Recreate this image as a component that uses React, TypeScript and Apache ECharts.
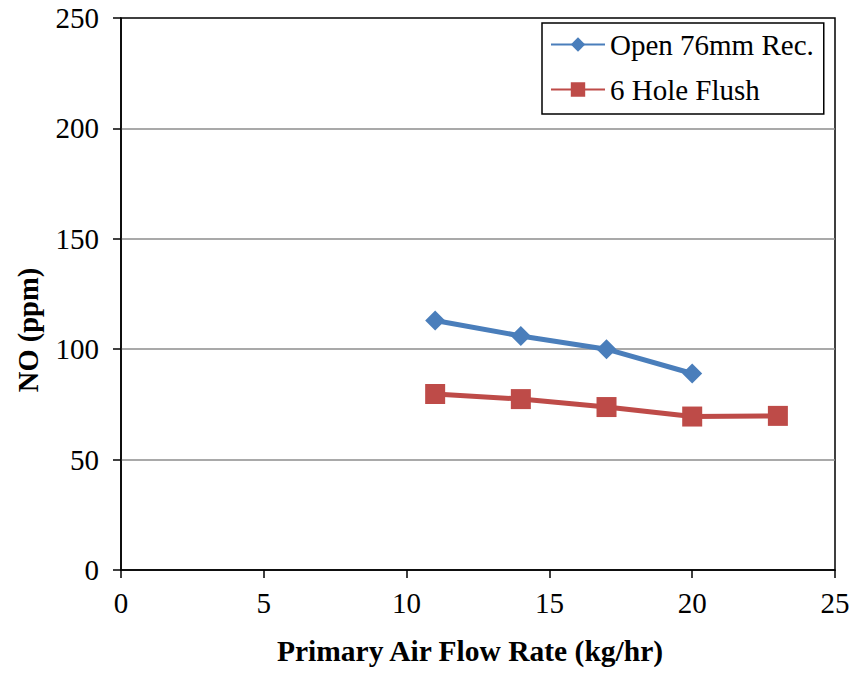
import React, { useEffect, useRef } from "react";
import * as echarts from "echarts";

const xOpen = [11, 14, 17, 20];
const yOpen = [113, 106, 100, 89];
const xFlush = [11, 14, 17, 20, 23];
const yFlush = [79.7, 77.4, 73.8, 69.5, 69.8];
const seriesNames = ["Open 76mm Rec.", "6 Hole Flush"];
const xTitle = "Primary Air Flow Rate (kg/hr)";
const yTitle = "NO (ppm)";

const FONT = "'Liberation Serif', 'Times New Roman', serif";

export default function App() {
  const ref = useRef<HTMLDivElement>(null);
  useEffect(() => {
    if (!ref.current) return;
    const chart = echarts.init(ref.current, undefined, { renderer: "svg" });
    const axisCommon = {
      axisLine: { show: true, lineStyle: { color: "#000", width: 1.5 } },
      axisTick: { show: true, inside: false, length: 8, lineStyle: { color: "#000", width: 1.5 } },
      axisLabel: { color: "#000", fontFamily: FONT, fontSize: 29 },
    };
    chart.setOption({
      animation: false,
      backgroundColor: "#fff",
      textStyle: { fontFamily: FONT },
      grid: {
        left: 121,
        right: 19,
        top: 18,
        bottom: 103,
        show: true,
        borderColor: "#000",
        borderWidth: 1.5,
        backgroundColor: "transparent",
      },
      legend: {
        show: true,
        left: 542,
        top: 23,
        orient: "vertical",
        padding: [7, 10, 10, 8],
        itemGap: 16,
        itemWidth: 54,
        itemHeight: 18,
        borderColor: "#000",
        borderWidth: 1.5,
        backgroundColor: "#fff",
        textStyle: { color: "#000", fontFamily: FONT, fontSize: 29 },
        data: seriesNames,
      },
      xAxis: {
        type: "value",
        min: 0,
        max: 25,
        interval: 5,
        name: xTitle,
        nameLocation: "middle",
        nameGap: 66,
        nameTextStyle: {
          color: "#000",
          fontFamily: FONT,
          fontSize: 29.5,
          fontWeight: "bold",
          padding: [0, 16, 0, 0],
        },
        splitLine: { show: false },
        ...axisCommon,
        axisLabel: { ...axisCommon.axisLabel, margin: 18 },
      },
      yAxis: {
        type: "value",
        min: 0,
        max: 250,
        interval: 50,
        name: yTitle,
        nameLocation: "middle",
        nameGap: 78,
        nameTextStyle: {
          color: "#000",
          fontFamily: FONT,
          fontSize: 28.5,
          fontWeight: "bold",
          padding: [0, 72, 0, 0],
        },
        splitLine: {
          show: true,
          showMinLine: false,
          showMaxLine: false,
          lineStyle: { color: "#8c8c8c", width: 1.5 },
        },
        ...axisCommon,
        axisLabel: { ...axisCommon.axisLabel, margin: 22 },
      },
      series: [
        {
          name: seriesNames[0],
          type: "line",
          data: xOpen.map((x, i) => [x, yOpen[i]]),
          symbol: "diamond",
          symbolSize: 20,
          lineStyle: { color: "#4a7ebb", width: 5 },
          itemStyle: { color: "#4a7ebb" },
        },
        {
          name: seriesNames[1],
          type: "line",
          data: xFlush.map((x, i) => [x, yFlush[i]]),
          symbol: "rect",
          symbolSize: 20,
          lineStyle: { color: "#be4b48", width: 5 },
          itemStyle: { color: "#be4b48" },
        },
      ],
    });
    return () => chart.dispose();
  }, []);
  return <div ref={ref} style={{ width: 854, height: 673, position: "absolute", left: 0, top: 0 }} />;
}
